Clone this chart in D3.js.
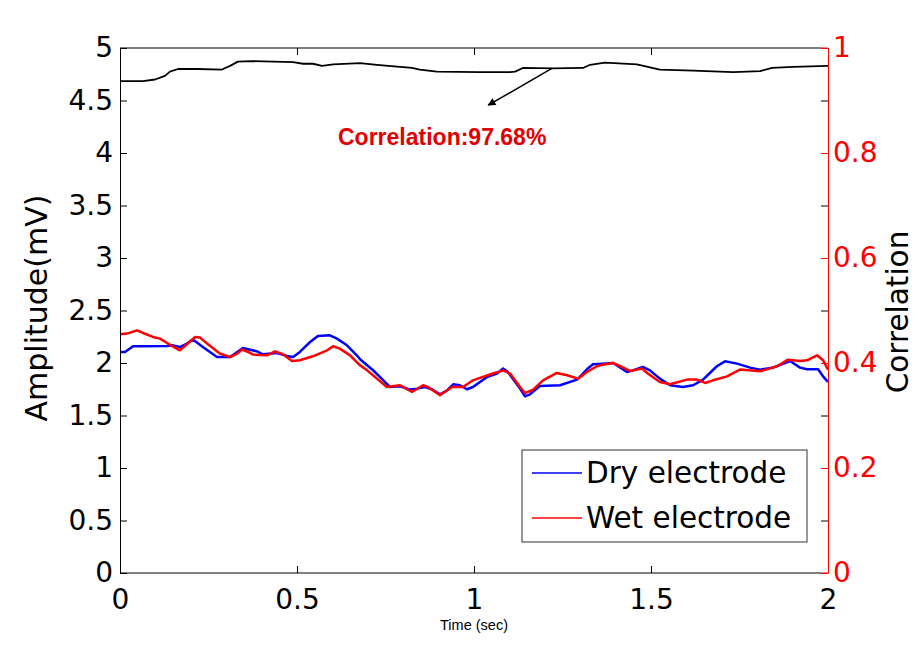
<!DOCTYPE html>
<html>
<head>
<meta charset="utf-8">
<script src="https://cdn.jsdelivr.net/npm/d3@7/dist/d3.min.js"></script>
<style>
  html, body { margin: 0; padding: 0; background: #fff; }
  svg { display: block; }
</style>
</head>
<body>
<svg id="chart" width="918" height="646"></svg>
<script>
// ---------- data ----------
const dryTime = [0,0.014,0.037,0.065,0.133,0.147,0.169,0.189,0.206,0.234,0.274,0.311,0.325,0.347,0.387,0.404,0.444,0.472,0.489,0.508,0.537,0.559,0.593,0.613,0.641,0.669,0.678,0.715,0.763,0.791,0.819,0.839,0.862,0.881,0.904,0.924,0.941,0.960,0.980,0.997,1.037,1.065,1.082,1.096,1.130,1.144,1.158,1.186,1.243,1.291,1.299,1.319,1.336,1.364,1.393,1.432,1.449,1.477,1.497,1.525,1.554,1.590,1.619,1.647,1.686,1.709,1.743,1.780,1.808,1.845,1.893,1.921,1.941,1.972,1.986,2.0];
const dryAmp  = [2.105,2.105,2.159,2.159,2.162,2.169,2.152,2.185,2.223,2.152,2.057,2.057,2.090,2.143,2.111,2.083,2.095,2.067,2.057,2.105,2.200,2.257,2.264,2.232,2.169,2.073,2.035,1.931,1.771,1.778,1.747,1.756,1.771,1.750,1.702,1.740,1.797,1.788,1.750,1.771,1.867,1.899,1.947,1.914,1.756,1.683,1.702,1.781,1.788,1.842,1.867,1.940,1.988,1.994,2.000,1.914,1.930,1.962,1.930,1.851,1.788,1.771,1.788,1.842,1.969,2.016,1.994,1.956,1.937,1.956,2.019,1.956,1.940,1.940,1.873,1.819];

const wetTime = [0,0.020,0.048,0.065,0.093,0.113,0.133,0.169,0.189,0.212,0.226,0.246,0.282,0.311,0.331,0.345,0.362,0.376,0.415,0.438,0.460,0.486,0.508,0.545,0.585,0.602,0.621,0.650,0.678,0.698,0.754,0.791,0.825,0.856,0.870,0.904,0.938,0.969,0.997,1.045,1.082,1.102,1.130,1.144,1.167,1.195,1.234,1.263,1.294,1.319,1.347,1.356,1.393,1.441,1.475,1.489,1.525,1.554,1.602,1.630,1.653,1.675,1.715,1.751,1.808,1.856,1.887,1.921,1.941,1.969,1.986,2.0];
const wetAmp  = [2.273,2.280,2.311,2.286,2.248,2.232,2.190,2.121,2.178,2.248,2.242,2.185,2.090,2.057,2.090,2.128,2.105,2.080,2.073,2.111,2.083,2.019,2.026,2.064,2.121,2.159,2.137,2.073,1.978,1.930,1.771,1.788,1.724,1.788,1.771,1.692,1.771,1.771,1.835,1.890,1.930,1.899,1.771,1.714,1.747,1.835,1.905,1.883,1.851,1.914,1.969,1.978,2.000,1.924,1.947,1.905,1.819,1.797,1.842,1.842,1.810,1.835,1.873,1.937,1.921,1.969,2.032,2.019,2.026,2.073,2.026,1.937];

const corrTime = [0,0.065,0.099,0.127,0.141,0.164,0.218,0.288,0.311,0.333,0.367,0.489,0.517,0.545,0.571,0.602,0.678,0.726,0.791,0.825,0.847,0.895,1.017,1.102,1.116,1.138,1.223,1.308,1.328,1.370,1.460,1.525,1.619,1.732,1.808,1.842,1.901,2.0];
const corrVal  = [0.937,0.937,0.940,0.947,0.955,0.960,0.960,0.959,0.966,0.974,0.975,0.973,0.970,0.970,0.966,0.969,0.971,0.968,0.964,0.962,0.959,0.955,0.954,0.954,0.955,0.962,0.961,0.962,0.968,0.972,0.969,0.959,0.957,0.954,0.956,0.962,0.964,0.966];

const xTicks      = [0, 0.5, 1, 1.5, 2];
const yLeftTicks  = [0, 0.5, 1, 1.5, 2, 2.5, 3, 3.5, 4, 4.5, 5];
const yRightTicks = [0, 0.2, 0.4, 0.6, 0.8, 1];
const seriesNames = ["Dry electrode", "Wet electrode"];
const seriesColors = ["#0000ff", "#ff0000"];
const annotationText = "Correlation:97.68%";
const arrowFrom = [1.22, 0.961];   // in (time, correlation) units
const arrowTo   = [1.04, 0.891];

// ---------- layout ----------
const svg = d3.select("#chart");
const L = 120, R = 828, T = 48, B = 573;
const x  = d3.scaleLinear().domain([0, 2]).range([L, R]);
const yL = d3.scaleLinear().domain([0, 5]).range([B, T]);
const yR = d3.scaleLinear().domain([0, 1]).range([B, T]);

svg.append("rect").attr("width", 918).attr("height", 646).attr("fill", "#fff");

const tickFont = "'DejaVu Sans', sans-serif";
const fmt = d => String(d);

// data lines
const lineL = d3.line().x(d => x(d[0])).y(d => yL(d[1]));
const lineR = d3.line().x(d => x(d[0])).y(d => yR(d[1]));
const plot = svg.append("g");
plot.append("path").datum(dryTime.map((t, i) => [t, dryAmp[i]]))
  .attr("d", lineL).attr("fill", "none").attr("stroke", seriesColors[0]).attr("stroke-width", 2.5).attr("stroke-linejoin", "round");
plot.append("path").datum(wetTime.map((t, i) => [t, wetAmp[i]]))
  .attr("d", lineL).attr("fill", "none").attr("stroke", seriesColors[1]).attr("stroke-width", 2.5).attr("stroke-linejoin", "round");
plot.append("path").datum(corrTime.map((t, i) => [t, corrVal[i]]))
  .attr("d", lineR).attr("fill", "none").attr("stroke", "#000").attr("stroke-width", 1.8).attr("stroke-linejoin", "round");

// axes
function styleAxis(g, color, showLabels, size) {
  g.select(".domain").attr("stroke", color).attr("stroke-width", 1);
  g.selectAll(".tick line").attr("stroke", color).attr("stroke-width", 1);
  g.selectAll(".tick text").attr("fill", color).style("font-family", tickFont).style("font-size", size + "px");
  if (!showLabels) g.selectAll(".tick text").remove();
}

// red short segments at right ends (second axes x axis)
svg.append("line").attr("x1", R - 7).attr("x2", R).attr("y1", B).attr("y2", B).attr("stroke", "#ff0000");
svg.append("line").attr("x1", R - 7).attr("x2", R).attr("y1", T).attr("y2", T).attr("stroke", "#ff0000");

const gBottom = svg.append("g").attr("transform", `translate(0,${B})`)
  .call(d3.axisBottom(x).tickValues(xTicks).tickFormat(fmt).tickSizeInner(-7).tickSizeOuter(0).tickPadding(16));
styleAxis(gBottom, "#000", true, 28);
gBottom.select(".domain").attr("d", `M${L},0H${R - 7}`);

const gTop = svg.append("g").attr("transform", `translate(0,${T})`)
  .call(d3.axisTop(x).tickValues(xTicks).tickSizeInner(-7).tickSizeOuter(0));
styleAxis(gTop, "#000", false, 28);
gTop.select(".domain").attr("d", `M${L},0H${R - 7}`);

const gLeft = svg.append("g").attr("transform", `translate(${L},0)`)
  .call(d3.axisLeft(yL).tickValues(yLeftTicks).tickFormat(fmt).tickSizeInner(-7).tickSizeOuter(0).tickPadding(7));
styleAxis(gLeft, "#000", true, 28);

const gRightMirror = svg.append("g").attr("transform", `translate(${R},0)`)
  .call(d3.axisRight(yL).tickValues(yLeftTicks).tickSizeInner(-7).tickSizeOuter(0));
styleAxis(gRightMirror, "#000", false, 28);
gRightMirror.select(".domain").remove();

const gRight = svg.append("g").attr("transform", `translate(${R},0)`)
  .call(d3.axisRight(yR).tickValues(yRightTicks).tickFormat(fmt).tickSizeInner(-7).tickSizeOuter(0).tickPadding(5));
styleAxis(gRight, "#ff0000", true, 28);

// axis titles
svg.append("text").attr("transform", `translate(47,308) rotate(-90)`)
  .attr("text-anchor", "middle").style("font-family", tickFont).style("font-size", "30px").attr("fill", "#000")
  .text("Amplitude(mV)");
svg.append("text").attr("transform", `translate(908,312) rotate(-90)`)
  .attr("text-anchor", "middle").style("font-family", tickFont).style("font-size", "29.5px").attr("fill", "#000")
  .text("Correlation");
svg.append("text").attr("x", (L + R) / 2).attr("y", 630)
  .attr("text-anchor", "middle").style("font-family", "'Liberation Sans', Arial, sans-serif").style("font-size", "14.5px").attr("fill", "#000")
  .text("Time (sec)");

// annotation + arrow
const defs = svg.append("defs");
defs.append("marker").attr("id", "arrowhead").attr("viewBox", "0 0 10 10").attr("refX", 9).attr("refY", 5)
  .attr("markerWidth", 12).attr("markerHeight", 8).attr("markerUnits", "userSpaceOnUse").attr("orient", "auto")
  .append("path").attr("d", "M0,0L10,5L0,10Z").attr("fill", "#000");
svg.append("line")
  .attr("x1", x(arrowFrom[0])).attr("y1", yR(arrowFrom[1]))
  .attr("x2", x(arrowTo[0])).attr("y2", yR(arrowTo[1]))
  .attr("stroke", "#000").attr("stroke-width", 1.5).attr("marker-end", "url(#arrowhead)");
svg.append("text").attr("x", 338).attr("y", 145)
  .style("font-family", "'Liberation Sans', Arial, sans-serif").style("font-size", "23px").style("font-weight", "bold")
  .attr("fill", "#e00000").text(annotationText);

// legend
const leg = svg.append("g");
leg.append("rect").attr("x", 522).attr("y", 450).attr("width", 285).attr("height", 92)
  .attr("fill", "#fff").attr("stroke", "#333").attr("stroke-width", 1);
seriesNames.forEach((name, i) => {
  const cy = 473 + i * 45;
  leg.append("line").attr("x1", 532).attr("x2", 582).attr("y1", cy).attr("y2", cy)
    .attr("stroke", seriesColors[i]).attr("stroke-width", 1.6);
  leg.append("text").attr("x", 586).attr("y", cy).attr("dy", "0.35em")
    .style("font-family", tickFont).style("font-size", "29.5px").attr("fill", "#000").text(name);
});
</script>
</body>
</html>
